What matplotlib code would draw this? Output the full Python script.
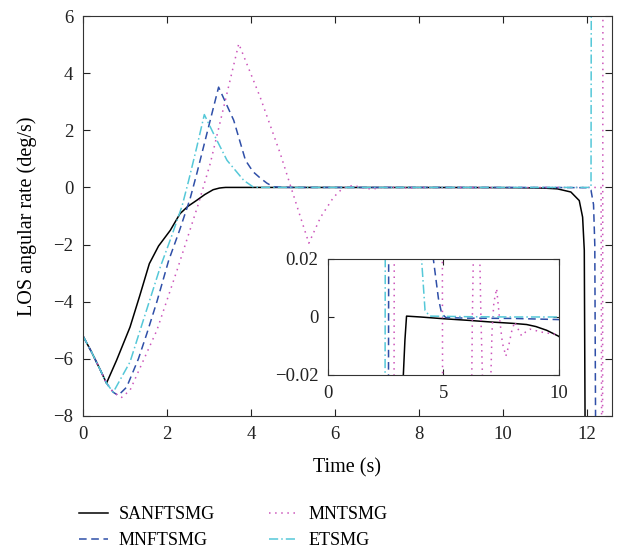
import matplotlib.pyplot as plt

plt.rcParams['font.family'] = ['Liberation Serif', 'DejaVu Serif']
plt.rcParams['font.size'] = 13.5
plt.rcParams['axes.unicode_minus'] = True

# SANFTSMG (solid black)
t_san = [0, 0.2, 0.4, 0.56, 0.8, 1.12, 1.35, 1.58, 1.8, 2.08, 2.31, 2.5, 2.71, 2.9, 3.1, 3.25,
         3.33, 3.40, 4.0, 5.0, 6.15, 7.0, 8.0, 8.6, 9.0, 9.47, 10.0, 10.5, 11.0, 11.3, 11.62,
         11.82, 11.9, 11.94, 11.97]
y_san = [-5.2, -5.75, -6.35, -6.85, -6.05, -4.89, -3.8, -2.67, -2.05, -1.5, -0.92, -0.66, -0.45,
         -0.25, -0.08, -0.022, -0.008, 0.0003, 0.0, -0.0006, -0.0012, -0.0017, -0.0022, -0.0026,
         -0.0033, -0.0046, -0.0067, -0.012, -0.025, -0.05, -0.16, -0.46, -1.04, -2.2, -12]

# MNFTSMG (blue dashed)
t_mnf = [0, 0.2, 0.4, 0.56, 0.72, 0.84, 1.04, 1.32, 1.52, 1.76, 2.04, 2.3, 2.55, 2.71, 3.07,
         3.23, 3.59, 3.87, 4.05, 4.22, 4.38, 4.5, 4.56, 4.78, 4.92, 5.1, 6.0, 8.0, 10.0, 11.0,
         12.0, 12.1, 12.16, 12.19, 12.22]
y_mnf = [-5.2, -5.75, -6.35, -6.85, -7.17, -7.28, -6.99, -6.0, -5.12, -4.0, -2.56, -1.5, -0.4,
         0.48, 2.58, 3.51, 2.35, 0.95, 0.55, 0.33, 0.15, 0.05, 0.02, 0.0064, 0.0012, -0.0002,
         -0.0004, -0.0005, -0.0009, -0.001, -0.01, -0.1, -0.6, -2.0, -12]

# MNTSMG (magenta dotted)
t_mnt = [0, 0.2, 0.4, 0.56, 0.72, 0.84, 0.92, 1.12, 1.76, 2.24, 2.75, 3.03, 3.35, 3.71, 4.22,
         4.7, 4.955, 5.18, 5.38, 5.66, 5.97, 6.15, 6.25, 6.35, 6.45, 6.55, 6.62, 6.75, 6.9,
         7.02, 7.1, 7.18, 7.3, 7.42, 7.55, 7.7, 7.82, 7.95, 8.08, 8.22, 8.38, 8.55, 8.75, 9.0,
         9.3, 9.7, 10.0, 10.5, 11.0, 12.0, 12.34, 12.37, 12.39]
y_mnt = [-5.2, -5.75, -6.35, -6.85, -7.17, -7.28, -7.35, -7.1, -5.0, -2.9, -0.57, 0.83, 2.8,
         5.03, 3.16, 1.18, 0.0, -1.04, -1.95, -1.04, -0.34, -0.08, 0.0, 0.05, 0.06, 0.03, 0.0,
         -0.04, -0.05, -0.03, -0.005, 0.005, 0.0098, 0.0, -0.009, -0.0135, -0.01, -0.005,
         -0.0017, -0.004, -0.0065, -0.0052, -0.0042, -0.0047, -0.0053, -0.0058, -0.006, -0.004,
         -0.002, -0.001, 0.0, -20, 20]

# ETSMG (cyan dash-dot)
t_ets = [0, 0.2, 0.4, 0.56, 0.72, 1.12, 1.84, 2.1, 2.36, 2.51, 2.71, 2.89, 3.11, 3.43, 3.83,
         4.05, 4.2, 4.4, 6.0, 8.0, 10.0, 12.1, 12.13]
y_ets = [-5.2, -5.75, -6.35, -6.85, -7.17, -6.11, -2.79, -1.75, -0.65, 0.2, 1.41, 2.55, 1.88,
         0.95, 0.245, 0.02, 0.0023, 0.0003, 0.0001, 0.0, 0.0, 0.0, 30]

names = ['SANFTSMG', 'MNFTSMG', 'MNTSMG', 'ETSMG']
colors = ['black', '#2f4fa8', '#cc55bb', '#55c8d8']
styles = ['-', (0, (5, 3)), (0, (1, 3)), (0, (6, 2, 1, 2))]
series = [(t_san, y_san), (t_mnf, y_mnf), (t_mnt, y_mnt), (t_ets, y_ets)]

fig = plt.figure(figsize=(6.17, 5.52), dpi=100)
ax = fig.add_axes([0.1345, 0.2464, 0.8574, 0.7246])
handles = []
for (t, y), n, c, s in zip(series, names, colors, styles):
    h, = ax.plot(t, y, color=c, linestyle=s, linewidth=1.1, label=n)
    handles.append(h)
ax.set_xlim(0, 12.6)
ax.set_ylim(-8, 6)
ax.set_xticks([0, 2, 4, 6, 8, 10, 12])
ax.set_yticks([-8, -6, -4, -2, 0, 2, 4, 6])
ax.tick_params(direction='in', top=True, right=True, length=5, pad=7,
               colors='#222222', labelcolor='#222222')
ax.set_xlabel('Time (s)', labelpad=11, fontsize=14.5)
ax.set_ylabel('LOS angular rate (deg/s)', labelpad=12, fontsize=14.5)
for sp in ax.spines.values():
    sp.set_color('#333333')

axin = fig.add_axes([0.5316, 0.3207, 0.3744, 0.2101])
for (t, y), c, s in zip(series, colors, styles):
    axin.plot(t, y, color=c, linestyle=s, linewidth=1.1)
axin.set_xlim(0, 10)
axin.set_ylim(-0.02, 0.02)
axin.set_xticks([0, 5, 10])
axin.set_yticks([-0.02, 0, 0.02])
axin.set_yticklabels(['\u22120.02', '0', '0.02'])
axin.tick_params(direction='in', top=True, right=True, length=4, pad=7,
                 colors='#222222', labelcolor='#222222')
for sp in axin.spines.values():
    sp.set_color('#333333')

fig.legend(handles=handles, ncol=2, loc='center left', bbox_to_anchor=(0.113, 0.044),
           frameon=False, borderpad=0, handlelength=1.6, handletextpad=0.6,
           columnspacing=3.0, labelspacing=0.5, fontsize=13)

fig.savefig('out.png', dpi=100)
